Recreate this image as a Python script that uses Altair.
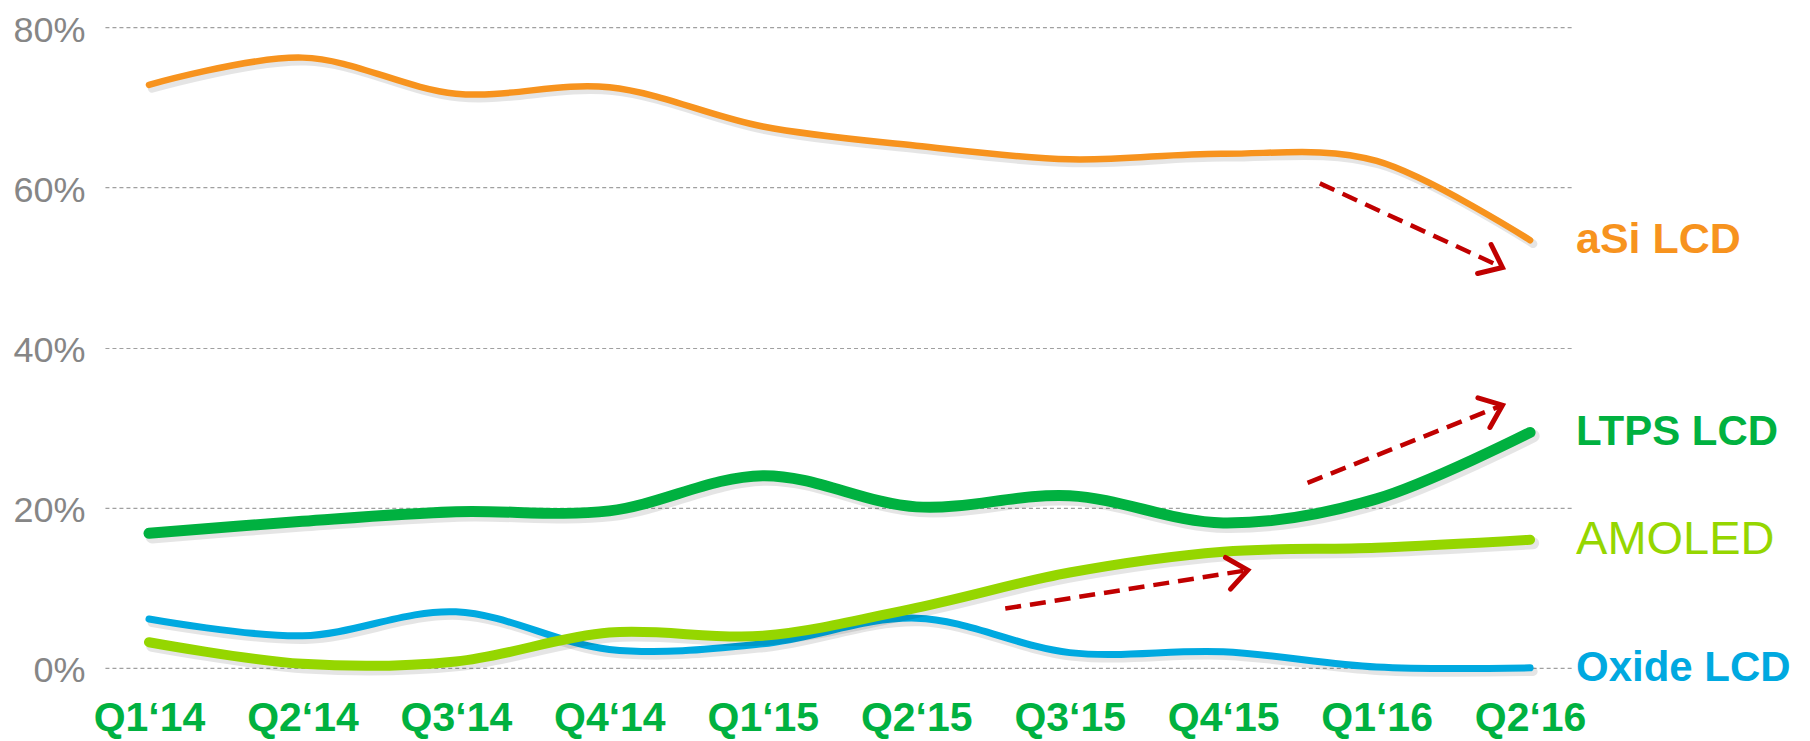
import json
import altair as alt
import pandas as pd

# ---------------- data ----------------
quarters = ["Q1‘14", "Q2‘14", "Q3‘14", "Q4‘14", "Q1‘15",
            "Q2‘15", "Q3‘15", "Q4‘15", "Q1‘16", "Q2‘16"]
series_names = ["aSi LCD", "LTPS LCD", "AMOLED", "Oxide LCD"]
asi_lcd = [72.8, 76.2, 71.7, 72.5, 67.6, 65.2, 63.5, 64.2, 63.3, 53.4]
ltps_lcd = [16.8, 18.3, 19.5, 19.6, 24.0, 20.1, 21.5, 18.1, 21.1, 29.4]
amoled = [3.2, 0.5, 0.8, 4.4, 4.0, 7.5, 11.9, 14.5, 15.0, 16.0]
oxide_lcd = [6.1, 4.0, 7.0, 2.3, 3.0, 6.2, 1.9, 2.0, 0.1, 0.0]
y_ticks = [0, 20, 40, 60, 80]

# trend arrows (x in quarter index units, y in percent)
arrow_x_start = [7.63, 7.55, 5.58]
arrow_y_start = [60.5, 23.1, 7.4]
arrow_x_end = [8.82, 8.82, 7.16]
arrow_y_end = [50.0, 32.8, 12.2]

# ---------------- styles ----------------
colors = {"aSi LCD": "#F7931E", "LTPS LCD": "#00B140",
          "AMOLED": "#95D600", "Oxide LCD": "#00A9E0"}
widths = {"aSi LCD": 6.5, "LTPS LCD": 11, "AMOLED": 10, "Oxide LCD": 7}
label_size = {"aSi LCD": 43, "LTPS LCD": 42, "AMOLED": 47, "Oxide LCD": 42}
label_weight = {"aSi LCD": "bold", "LTPS LCD": "bold", "AMOLED": "normal", "Oxide LCD": "bold"}
arrow_angles = [25, 338, 351]
FONT = "Liberation Sans"
RED = "#C00000"

values = {"aSi LCD": asi_lcd, "LTPS LCD": ltps_lcd, "AMOLED": amoled, "Oxide LCD": oxide_lcd}
rows = []
for name in series_names:
    for i, q in enumerate(quarters):
        rows.append({"idx": i, "quarter": q, "series": name, "value": values[name][i]})
df = pd.DataFrame(rows)

last_idx = len(quarters) - 1
lab_df = pd.DataFrame({"series": series_names,
                       "idx": [last_idx] * len(series_names),
                       "value": [values[n][-1] for n in series_names]})

arr_df = pd.DataFrame({"x": arrow_x_start, "y": arrow_y_start,
                       "x2": arrow_x_end, "y2": arrow_y_end})

x_scale = alt.Scale(domain=[-0.287, 9.274], nice=False, zero=False)
y_scale = alt.Scale(domain=[0, 80], nice=False)

label_expr = json.dumps(quarters, ensure_ascii=False) + "[datum.value]"

x_axis = alt.Axis(values=list(range(len(quarters))), labelExpr=label_expr,
                  title=None, grid=False, ticks=False, domain=False,
                  labelFont=FONT, labelFontSize=41, labelFontWeight="bold",
                  labelColor="#00B140", labelBaseline="alphabetic",
                  labelPadding=63, labelFlush=False)
y_axis = alt.Axis(values=y_ticks, labelExpr="datum.value + '%'",
                  title=None, grid=True, gridDash=[4, 3], gridColor="#a0a0a0",
                  gridWidth=1.2, ticks=False, domain=False,
                  labelFont=FONT, labelFontSize=36, labelColor="#868686",
                  labelPadding=20, labelOffset=3)


def X(field):
    return alt.X(field, scale=x_scale, axis=x_axis)


def Y(field):
    return alt.Y(field, scale=y_scale, axis=y_axis)


layers = []

draw_order = ["aSi LCD", "LTPS LCD", "Oxide LCD", "AMOLED"]
for name in draw_order:
    shadow = alt.Chart(df).transform_filter(
        alt.datum.series == name
    ).transform_calculate(
        sx="datum.idx + 0.02", sy="datum.value - 0.45"
    ).mark_line(interpolate="cardinal", strokeCap="round", color="#000000",
                opacity=0.10, strokeWidth=widths[name] + 2).encode(
        x=X("sx:Q"), y=Y("sy:Q"),
    )
    line = alt.Chart(df).transform_filter(
        alt.datum.series == name
    ).mark_line(interpolate="cardinal", strokeCap="round", strokeJoin="round",
                color=colors[name], strokeWidth=widths[name]).encode(
        x=X("idx:Q"), y=Y("value:Q"),
    )
    layers += [shadow, line]

# arrows
rules = alt.Chart(arr_df).mark_rule(color=RED, strokeWidth=4.5, strokeDash=[16, 9]).encode(
    x=X("x:Q"), y=Y("y:Q"), x2="x2:Q", y2="y2:Q",
)
layers.append(rules)
for i, ang in enumerate(arrow_angles):
    head = alt.Chart(arr_df).transform_filter(
        alt.datum.x == arrow_x_start[i]
    ).mark_point(shape="M -1 -0.8 L 0 0 L -1 0.8", filled=False, color=RED,
                 strokeWidth=5, size=1600, angle=ang, opacity=1,
                 strokeJoin="miter", strokeCap="round").encode(
        x=X("x2:Q"), y=Y("y2:Q"),
    )
    layers.append(head)

# series labels
for name in series_names:
    t = alt.Chart(lab_df).transform_filter(
        alt.datum.series == name
    ).mark_text(align="left", baseline="middle", dx=46, font=FONT,
                fontSize=label_size[name], fontWeight=label_weight[name],
                color=colors[name]).encode(
        x=X("idx:Q"), y=Y("value:Q"), text="series:N",
    )
    layers.append(t)

chart = alt.layer(*layers).properties(
    width=1468, height=641,
    background="white",
    autosize=alt.AutoSizeParams(type="none"),
    padding={"left": 97, "top": 19, "right": 230, "bottom": 73},
).configure_view(stroke="transparent", strokeWidth=0)

chart.save("out.html", embed_options={"renderer": "svg", "actions": False})
